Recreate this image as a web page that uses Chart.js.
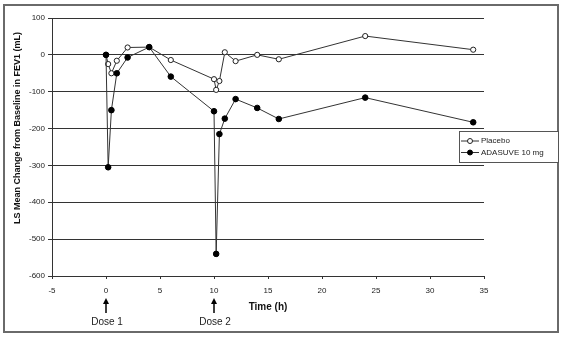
<!DOCTYPE html>
<html>
<head>
<meta charset="utf-8">
<script src="https://cdn.jsdelivr.net/npm/chart.js@4.4.1/dist/chart.umd.min.js"></script>
<style>
  body { margin: 0; background: #fff; }
</style>
</head>
<body>
<canvas id="fevChart" width="564" height="338"></canvas>
<script>
// time points (h) shared by both series
const times = [0, 0.2, 0.5, 1, 2, 4, 6, 10, 10.2, 10.5, 11, 12, 14, 16, 24, 34];
const placebo = [0, -25, -50, -16, 20, 21, -14, -66, -95, -71, 7, -17, 0, -12, 51, 14];
const adasuve = [0, -305, -150, -50, -7, 21, -59, -153, -540, -215, -173, -120, -144, -174, -116, -183];
const seriesNames = ['Placebo', 'ADASUVE 10 mg'];
const doseTimes = [0, 10];
const doseLabels = ['Dose 1', 'Dose 2'];

const FONT = 'Liberation Sans, Arial, sans-serif';

const toPoints = vals => vals.map((v, i) => ({ x: times[i], y: v }));

// frame around the whole figure, custom legend, y title and dose arrows
const decorations = {
  id: 'decorations',
  beforeDraw(chart) {
    const ctx = chart.ctx;
    ctx.save();
    ctx.fillStyle = '#fff';
    ctx.fillRect(0, 0, chart.width, chart.height);
    ctx.restore();
  },
  afterDraw(chart) {
    const ctx = chart.ctx;
    const x = chart.scales.x;
    ctx.save();

    // outer frame
    ctx.strokeStyle = '#6a6a6a';
    ctx.lineWidth = 2;
    ctx.strokeRect(4, 5, 554, 327);

    // y axis title
    ctx.fillStyle = '#111';
    ctx.font = 'bold 9px ' + FONT;
    ctx.textAlign = 'center';
    ctx.textBaseline = 'middle';
    ctx.translate(18, 128);
    ctx.rotate(-Math.PI / 2);
    ctx.fillText('LS Mean Change from Baseline in FEV1 (mL)', 0, 0);
    ctx.setTransform(1, 0, 0, 1, 0, 0);

    // dose arrows
    doseTimes.forEach((t, i) => {
      const px = x.getPixelForValue(t);
      ctx.strokeStyle = '#000';
      ctx.fillStyle = '#000';
      ctx.lineWidth = 1.5;
      ctx.beginPath();
      ctx.moveTo(px, 302);
      ctx.lineTo(px, 313);
      ctx.stroke();
      ctx.beginPath();
      ctx.moveTo(px, 298);
      ctx.lineTo(px - 3, 304);
      ctx.lineTo(px + 3, 304);
      ctx.closePath();
      ctx.fill();
      ctx.font = '10px ' + FONT;
      ctx.textAlign = 'center';
      ctx.textBaseline = 'middle';
      ctx.fillStyle = '#222';
      ctx.fillText(doseLabels[i], px + 1, 322);
    });

    // legend box
    const lx = 459, ly = 131, lw = 99, lh = 31;
    ctx.fillStyle = '#fff';
    ctx.fillRect(lx, ly, lw, lh);
    ctx.strokeStyle = '#555';
    ctx.lineWidth = 1;
    ctx.strokeRect(lx + 0.5, ly + 0.5, lw, lh);
    chart.data.datasets.forEach((ds, i) => {
      const ry = ly + 10 + i * 11.5;
      ctx.strokeStyle = ds.borderColor;
      ctx.lineWidth = 1;
      ctx.beginPath();
      ctx.moveTo(lx + 2, ry);
      ctx.lineTo(lx + 20, ry);
      ctx.stroke();
      ctx.beginPath();
      ctx.arc(lx + 11, ry, 2.5, 0, Math.PI * 2);
      ctx.fillStyle = ds.pointBackgroundColor;
      ctx.fill();
      ctx.strokeStyle = ds.pointBorderColor;
      ctx.stroke();
      ctx.fillStyle = '#222';
      ctx.font = '8px ' + FONT;
      ctx.textAlign = 'left';
      ctx.textBaseline = 'middle';
      ctx.fillText(ds.label, lx + 22, ry);
    });
    ctx.restore();
  }
};

new Chart(document.getElementById('fevChart').getContext('2d'), {
  type: 'line',
  data: {
    datasets: [
      {
        label: seriesNames[0],
        data: toPoints(placebo),
        order: 1,
        borderColor: '#333',
        borderWidth: 1,
        pointRadius: 2.6,
        pointBorderWidth: 1,
        pointBackgroundColor: '#fff',
        pointBorderColor: '#222',
        tension: 0
      },
      {
        label: seriesNames[1],
        data: toPoints(adasuve),
        order: 0,
        borderColor: '#333',
        borderWidth: 1,
        pointRadius: 2.8,
        pointBorderWidth: 1,
        pointBackgroundColor: '#000',
        pointBorderColor: '#000',
        tension: 0
      }
    ]
  },
  options: {
    responsive: false,
    animation: false,
    layout: { padding: { top: 18, right: 80, left: 0, bottom: 0 } },
    plugins: {
      legend: { display: false },
      tooltip: { enabled: false }
    },
    scales: {
      x: {
        type: 'linear',
        min: -5,
        max: 35,
        ticks: { stepSize: 5, color: '#222', font: { family: FONT, size: 8 }, padding: 7, maxRotation: 0 },
        grid: { drawOnChartArea: false, tickLength: 3, color: '#333' },
        border: { color: '#333', width: 1 },
        title: {
          display: true,
          text: 'Time (h)',
          color: '#111',
          font: { family: FONT, size: 10, weight: 'bold' },
          padding: { top: 0, bottom: 25 }
        },
        afterFit(scale) { scale.height = 62; }
      },
      y: {
        min: -600,
        max: 100,
        ticks: { stepSize: 100, color: '#222', font: { family: FONT, size: 8 }, padding: 3 },
        grid: { color: '#333', tickLength: 4, lineWidth: 1 },
        border: { color: '#333', width: 1 },
        afterFit(scale) { scale.width = 52; }
      }
    }
  },
  plugins: [decorations]
});
</script>
</body>
</html>
